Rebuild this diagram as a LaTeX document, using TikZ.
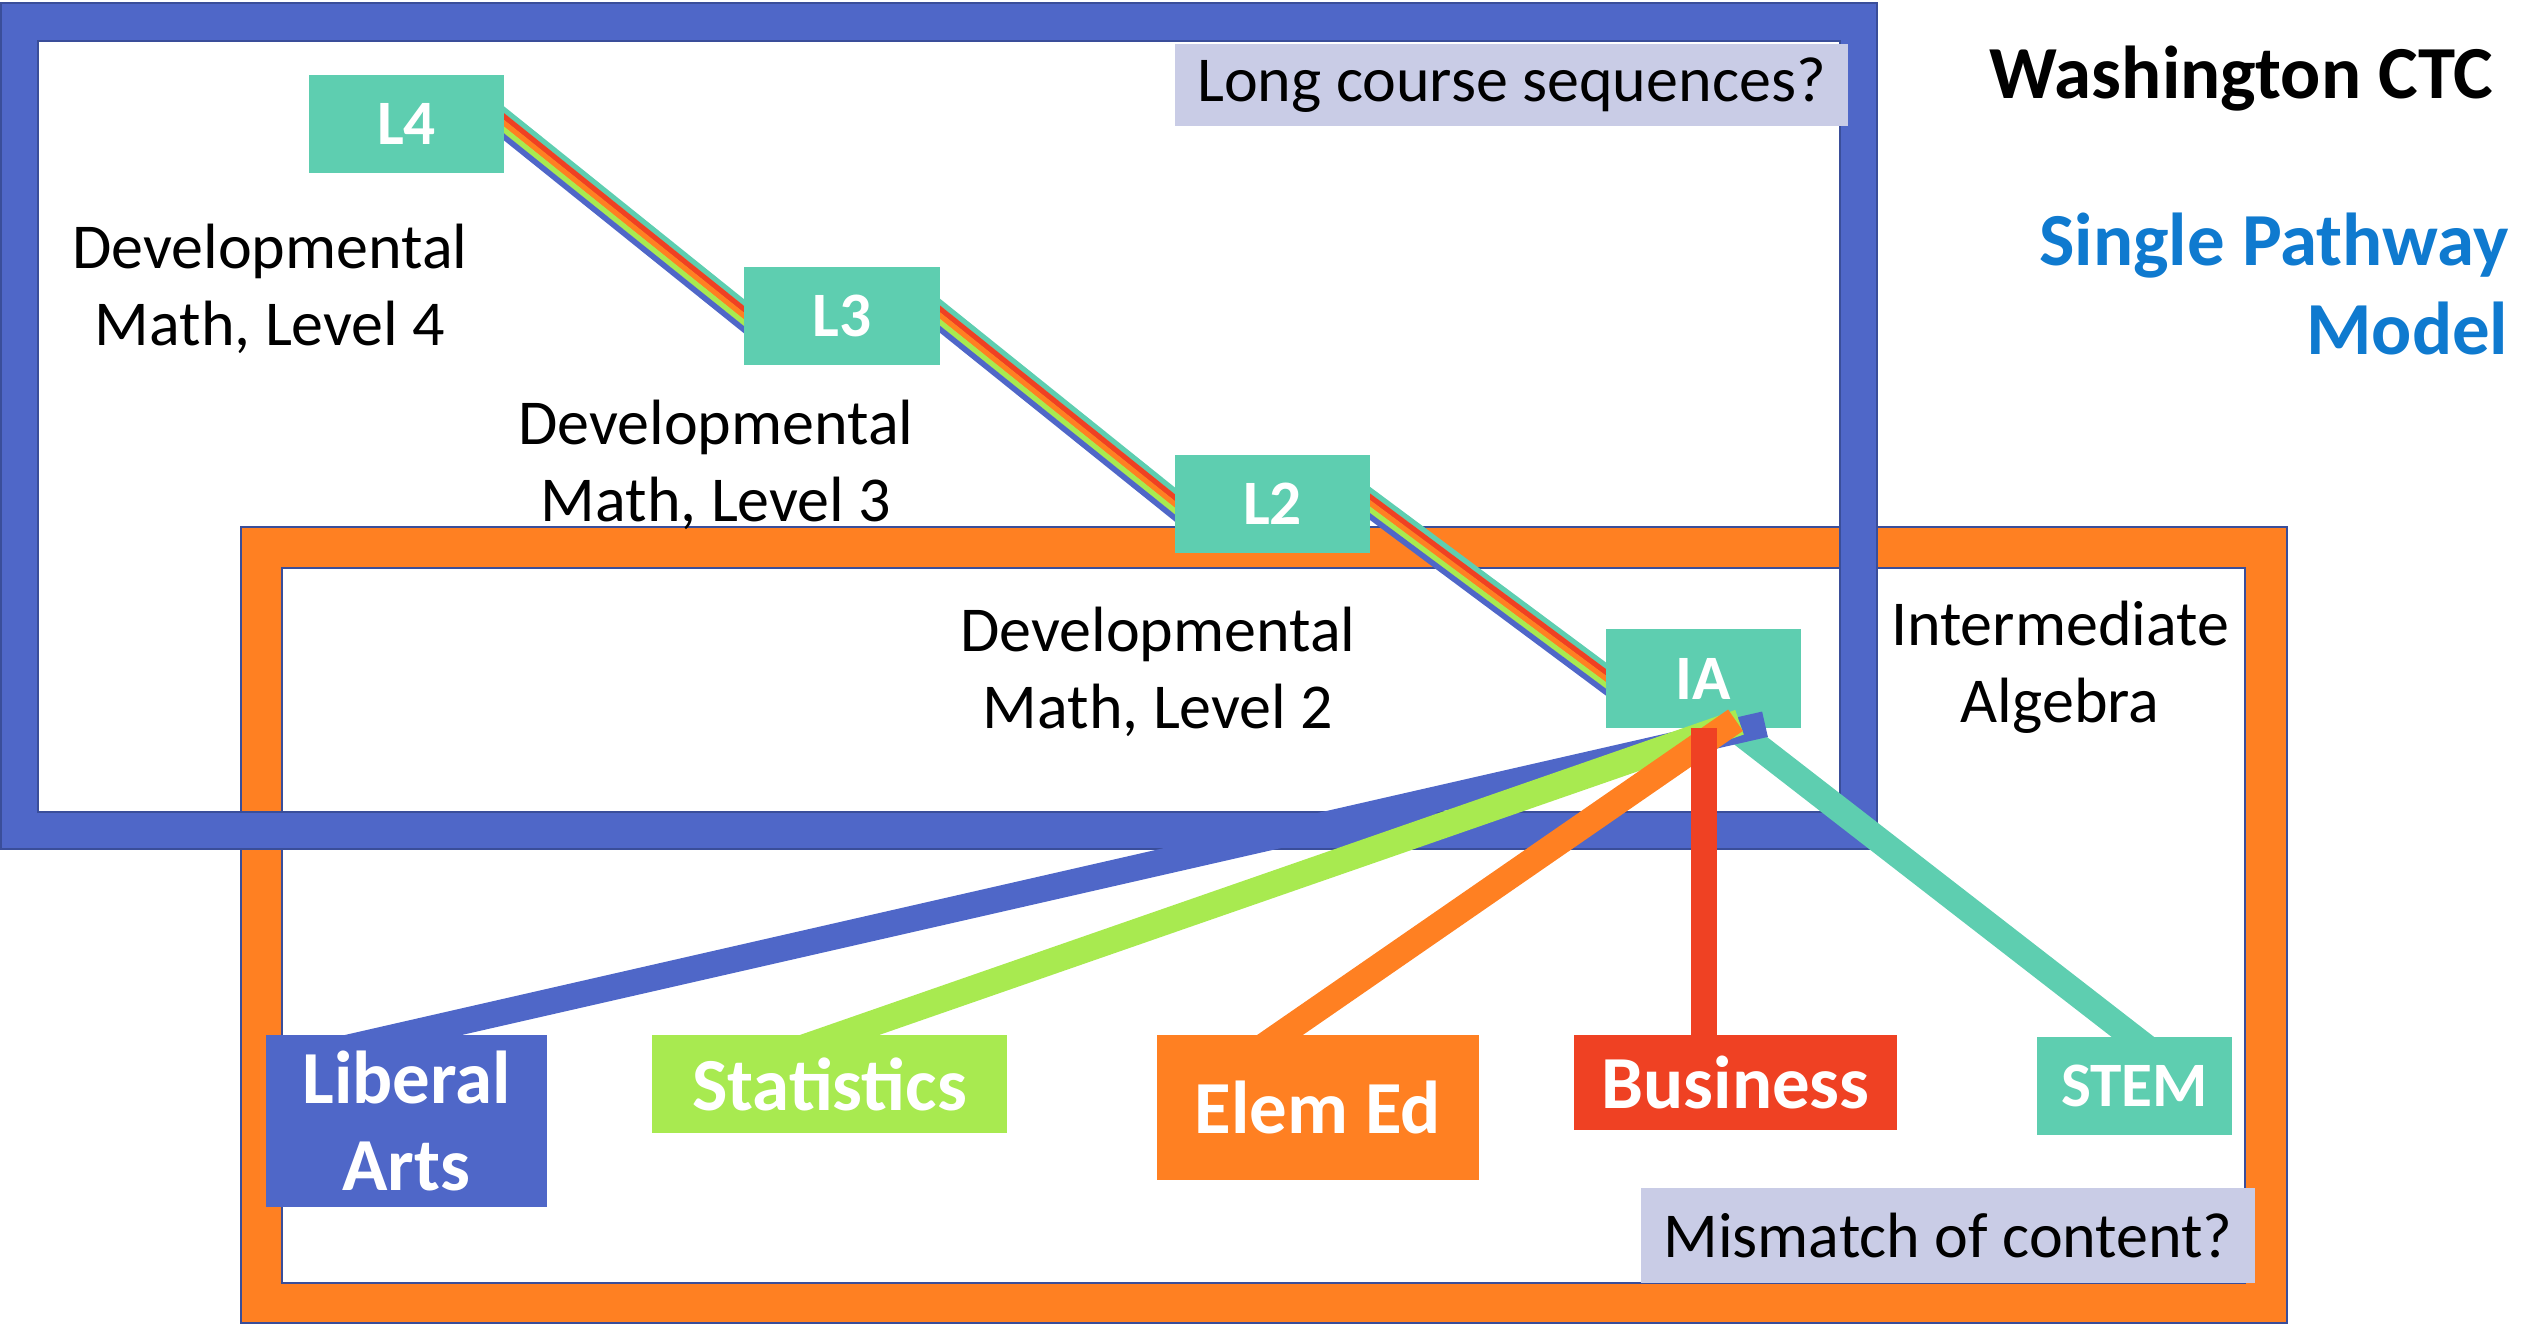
\documentclass[tikz,border=0pt]{standalone}
\usepackage{fontspec}
\setmainfont{Carlito}
\usetikzlibrary{calc}
\pgfdeclarelayer{frames}
\pgfdeclarelayer{links}
\pgfdeclarelayer{fan}
\pgfdeclarelayer{front}
\pgfsetlayers{frames,links,main,fan,front}

\definecolor{cBlue}{HTML}{4F67C8}
\definecolor{cOrange}{HTML}{FF8022}
\definecolor{cGreen}{HTML}{A8EA50}
\definecolor{cRed}{HTML}{EF4123}
\definecolor{cTeal}{HTML}{5ECEB0}
\definecolor{cEdge}{HTML}{3A4E9A}
\definecolor{cLav}{HTML}{C9CCE6}
\definecolor{cTitle}{HTML}{0F7ACF}

% five parallel stripes between two anchors
\newcommand\rainbowlink[2]{%
  \coordinate (ra) at ($(#1)!-0.12cm!(#2)$);
  \coordinate (rb) at ($(#2)!-0.12cm!(#1)$);
  \foreach \off/\col in {2.99pt/cTeal,1.49pt/cRed,0pt/cOrange,-1.49pt/cGreen,-2.99pt/cBlue}{
    \draw[\col,line width=0.056cm] ($(ra)!\off!90:(rb)$) -- ($(rb)!\off!-90:(ra)$);
  }%
}

\begin{document}
\begin{tikzpicture}[x=0.01cm,y=-0.01cm,
  lvl/.style={fill=cTeal,text=white,inner sep=0,minimum width=1.95cm,minimum height=0.98cm,
    font=\fontsize{18}{21}\selectfont\bfseries},
  body/.style={align=center,inner sep=0,font=\fontsize{18.2}{21.8}\selectfont},
  note/.style={fill=cLav,inner sep=0,font=\fontsize{18.2}{21.8}\selectfont},
  track/.style={fill=white,text=white,inner sep=0,align=center,
    font=\fontsize{21.3}{25}\selectfont\bfseries},
  title/.style={inner sep=0,align=right,font=\fontsize{21.3}{25.3}\selectfont\bfseries},
  ring/.style={line width=0.5pt,draw=cEdge},
  fanline/.style={line width=0.26cm}]
\useasboundingbox (0,0) rectangle (2535,1326);

% the two framing rings
\begin{pgfonlayer}{frames}
  \fill[cOrange,even odd rule] (241,527) rectangle (2287,1323) (282,568) rectangle (2245,1283);
  \draw[ring] (241,527) rectangle (2287,1323) (282,568) rectangle (2245,1283);
  \fill[cBlue,even odd rule] (1,3) rectangle (1877,849) (38,41) rectangle (1840,812);
  \draw[ring] (1,3) rectangle (1877,849) (38,41) rectangle (1840,812);
\end{pgfonlayer}

% course levels
\node[lvl] (L4) at (406.5,124) {L4};
\node[lvl] (L3) at (842,316) {L3};
\node[lvl] (L2) at (1272.5,504) {L2};
\node[lvl] (IA) at (1703.5,678.5) {IA};

\node[body] (d4) at (270,289) {Developmental\\Math, Level 4};
\node[body] (d3) at (716,465) {Developmental\\Math, Level 3};
\node[body] (d2) at (1158,672) {Developmental\\Math, Level 2};
\node[body] (dia) at (2060,667) {Intermediate\\Algebra};

\node[note,minimum width=6.73cm,minimum height=0.82cm] (q1) at (1511.5,85) {Long course sequences?};
\node[note,minimum width=6.14cm,minimum height=0.95cm] (q2) at (1948,1235.5) {Mismatch of content?};

\node[title,anchor=base east] (t1) at (2494,98) {Washington CTC};
\node[title,text=cTitle,anchor=base east] (t2) at (2509,354) {Single Pathway\\Model};

% sequence of developmental courses
\begin{pgfonlayer}{links}
  \rainbowlink{L4.east}{L3.west}
  \rainbowlink{L3.east}{L2.west}
  \rainbowlink{L2.east}{IA.west}
\end{pgfonlayer}

% college-level tracks
\begin{pgfonlayer}{front}
  \node[track,fill=cBlue,minimum width=2.81cm,minimum height=1.72cm] (lib) at (406.5,1121) {Liberal\\Arts};
  \node[track,fill=cGreen,minimum width=3.55cm,minimum height=0.98cm] (stat) at (829.5,1084) {Statistics};
  \node[track,fill=cOrange,minimum width=3.22cm,minimum height=1.45cm] (elem) at (1318,1107.5) {Elem Ed};
  \node[track,fill=cRed,minimum width=3.23cm,minimum height=0.95cm] (bus) at (1735.5,1082.5) {Business};
  \node[track,fill=cTeal,minimum width=1.95cm,minimum height=0.98cm,
    font=\fontsize{18}{21}\selectfont\bfseries] (stem) at (2134.5,1086) {STEM};
\end{pgfonlayer}

% fan from Intermediate Algebra to the tracks
\coordinate (fB) at ($(IA.south)+(61.5,-4)$);
\coordinate (fG) at ($(IA.south)+(36,-6)$);
\coordinate (fO) at ($(IA.south)+(32,-8)$);
\coordinate (fT) at ($(IA.south)+(31,0)$);
\coordinate (sG) at ($(stat.north)+(12,0)$);
\coordinate (sO) at ($(elem.north)+(-37,0)$);
\coordinate (sT) at ($(stem.north)+(-2.5,0)$);
\begin{pgfonlayer}{fan}
  \draw[fanline,cTeal] ($(sT)!-0.7cm!(fT)$) -- (fT);
  \draw[fanline,cBlue] ($(lib.north)!-0.7cm!(fB)$) -- (fB);
  \draw[fanline,cGreen] ($(sG)!-0.7cm!(fG)$) -- (fG);
  \draw[fanline,cOrange] ($(sO)!-0.7cm!(fO)$) -- (fO);
  \draw[fanline,cRed] (IA.south) -- ($(IA.south |- bus.north)+(0,20)$);
\end{pgfonlayer}
\end{tikzpicture}
\end{document}
